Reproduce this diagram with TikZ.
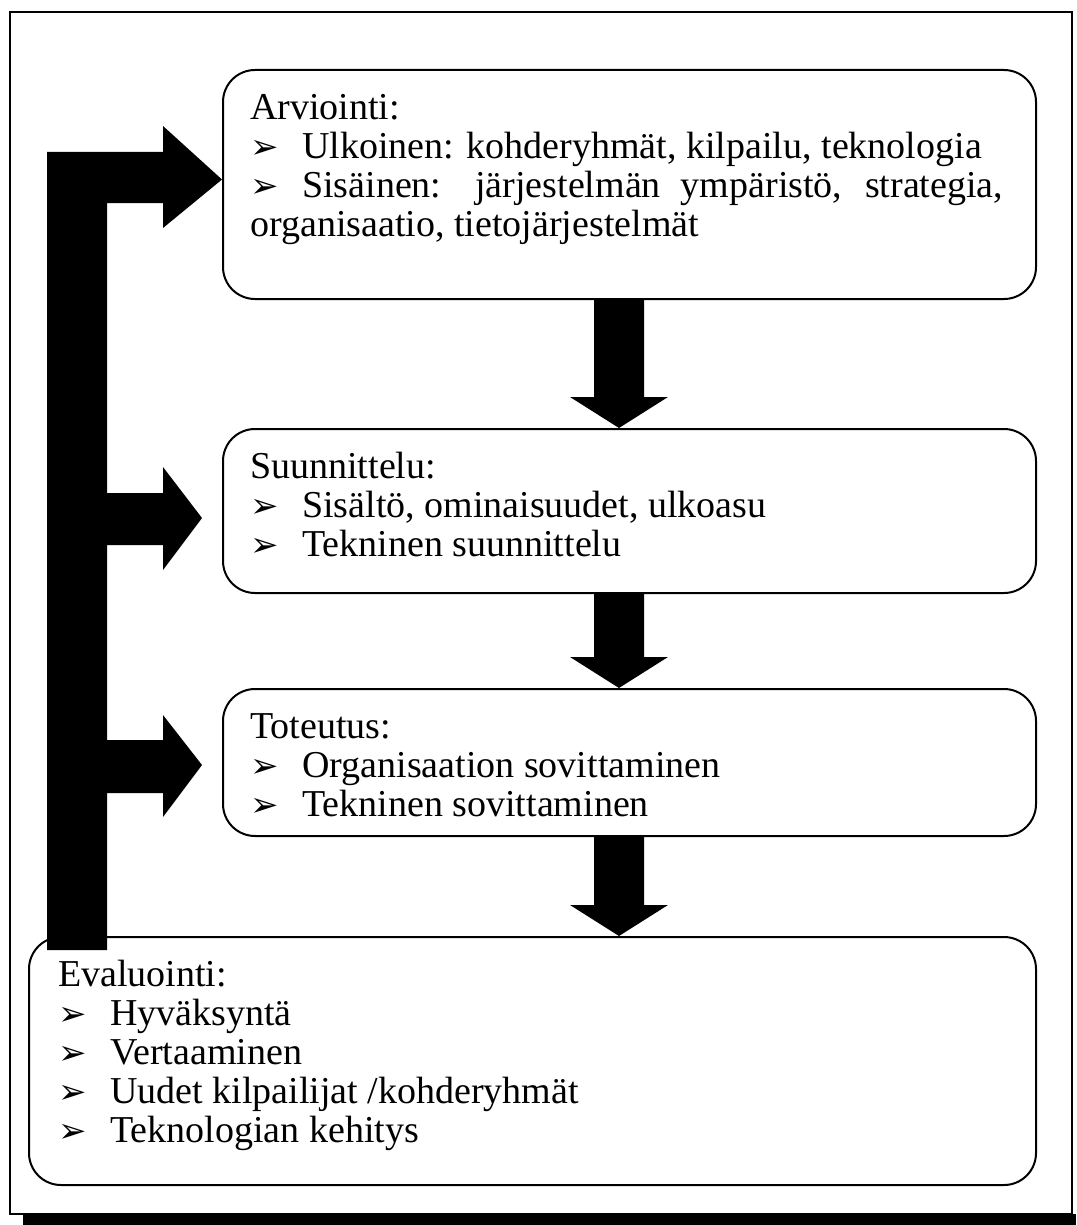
\documentclass[tikz,border=0pt]{standalone}
\usepackage{fontspec}
\setmainfont{Liberation Serif}
\newfontfamily\symfont{DejaVu Sans}
\usetikzlibrary{calc}

% arrowhead bullet followed by the item text
\newcommand\bul{\makebox[52pt][l]{\symfont\fontsize{34}{34}\selectfont ➢}}
% fixed first-line height so baselines sit where intended
\newcommand\fl{\rule{0pt}{26pt}}

% fat downward block arrow between two stage boxes, on the axis (ax)
\newcommand\downblock[2]{%
  \path (#1.south -| ax) coordinate (dbtop) (#2.north -| ax) coordinate (dbtip);
  \fill ([xshift=-25pt]dbtop) -- ([xshift=25pt]dbtop)
     -- ([xshift=25pt,yshift=31pt]dbtip) -- ([xshift=49pt,yshift=31pt]dbtip)
     -- (dbtip)
     -- ([xshift=-49pt,yshift=31pt]dbtip) -- ([xshift=-25pt,yshift=31pt]dbtip)
     -- cycle;}

\begin{document}
\begin{tikzpicture}[x=1pt,y=-1pt,
  stage/.style={draw,line width=2pt,rounded corners=32pt,anchor=north west,inner sep=0pt},
  txt/.style={anchor=north west,inner sep=0pt,align=left,font=\fontsize{38}{39}\selectfont}]
\useasboundingbox (0,0) rectangle (1076,1225);
\fill[white] (0,0) rectangle (1076,1225);

% outer frame with heavy bottom edge
\draw[line width=1.5pt] (10,12) rectangle (1072,1214);
\fill (23,1214) rectangle (1076,1225);

% stage boxes
\node[stage,minimum width=813pt,minimum height=229pt] (arv) at (222,69) {};
\node[stage,minimum width=813pt,minimum height=164pt] (sun) at (222,428) {};
\node[stage,minimum width=813pt,minimum height=147pt] (tot) at (222,688) {};
\node[stage,minimum width=1007pt,minimum height=248pt] (eva) at (28,936) {};

% stage texts
\node[txt] (arvt) at (250,93) {\fl Arviointi:\\
\bul Ulkoinen: kohderyhmät, kilpailu, teknologia\\
\makebox[753pt][s]{\bul Sisäinen: järjestelmän ympäristö, strategia,}\\
organisaatio, tietojärjestelmät};

\node[txt] (sunt) at (250,452) {\fl Suunnittelu:\\
\bul Sisältö, ominaisuudet, ulkoasu\\
\bul Tekninen suunnittelu};

\node[txt] (tott) at (250,712) {\fl Toteutus:\\
\bul Organisaation sovittaminen\\
\bul Tekninen sovittaminen};

\node[txt] (evat) at (58,960) {\fl Evaluointi:\\
\bul Hyväksyntä\\
\bul Vertaaminen\\
\bul Uudet kilpailijat /kohderyhmät\\
\bul Teknologian kehitys};

% downward flow
\coordinate (ax) at (619,0);
\downblock{arv}{sun}
\downblock{sun}{tot}
\downblock{tot}{eva}

% feedback spine with three branches
\fill (47,950) -- (47,152) -- (163,152) -- (163,126) -- ([yshift=5pt]arv.west)
  -- (163,228) -- (163,203) -- (107,203)
  -- (107,493) -- (163,493) -- (163,467) -- (202,518) -- (163,570) -- (163,545) -- (107,545)
  -- (107,740) -- (163,740) -- (163,715) -- (202,765) -- (163,817) -- (163,793) -- (107,793)
  -- (107,950) -- cycle;
\end{tikzpicture}
\end{document}
